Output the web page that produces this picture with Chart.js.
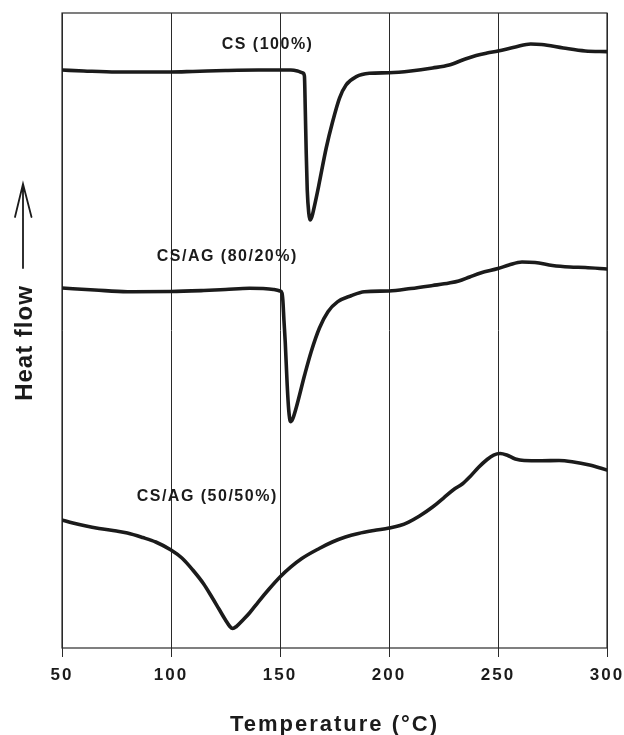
<!DOCTYPE html>
<html>
<head>
<meta charset="utf-8">
<title>DSC thermograms</title>
<script src="https://cdn.jsdelivr.net/npm/chart.js@4/dist/chart.umd.min.js"></script>
<style>
  html, body { margin: 0; padding: 0; background: #ffffff; }
  #wrap { width: 624px; height: 735px; }
</style>
</head>
<body>
<div id="wrap"><canvas id="dsc" width="624" height="735"></canvas></div>
<script>
// Temperature axis ticks (°C)
const temperatureTicks = [50, 100, 150, 200, 250, 300];

// Heat flow curves, arbitrary units (endotherm = downward)
const csTemp = [50, 60, 75, 100, 110, 125, 140, 150, 155, 158, 160.5, 161.2, 161.6, 162, 162.5, 163.2, 163.8, 164.6, 165.5, 167, 168.1, 171.2, 174.1, 177.3, 180.3, 185, 191, 200, 210, 220, 227.6, 235, 240, 245, 250, 258, 265, 270, 280, 290, 300];
const csFlow = [91.02, 90.87, 90.71, 90.71, 90.79, 90.94, 91.02, 91.02, 91.02, 90.87, 90.55, 90.08, 84.72, 78.43, 72.13, 68.50, 67.40, 67.87, 69.13, 71.50, 73.39, 78.74, 82.83, 86.61, 88.66, 89.97, 90.50, 90.60, 90.87, 91.34, 91.81, 92.76, 93.31, 93.70, 94.02, 94.65, 95.12, 95.04, 94.49, 94.02, 93.91];

const cs80Temp = [50, 65, 80, 100, 115, 125, 136, 142, 147, 150, 150.9, 151.3, 151.8, 152.4, 153.3, 154, 154.8, 155.8, 157.4, 161.3, 164.3, 168.1, 172, 176.5, 182.6, 188.7, 200, 210, 220, 227.6, 232, 237, 242, 250, 255, 261, 267, 275, 283, 290, 300];
const cs80Flow = [56.69, 56.38, 56.11, 56.14, 56.30, 56.46, 56.65, 56.61, 56.46, 56.22, 55.91, 54.80, 51.65, 48.19, 41.42, 37.48, 35.64, 36.06, 37.80, 42.99, 46.66, 50.39, 52.96, 54.54, 55.48, 56.11, 56.22, 56.61, 57.09, 57.48, 57.80, 58.43, 59.06, 59.76, 60.31, 60.79, 60.71, 60.24, 60.00, 59.92, 59.69];

const cs50Temp = [50, 55, 60, 67, 75, 80, 87, 93, 100, 105, 110, 115, 119, 122, 125, 127, 128.3, 130, 133, 136, 140, 145, 150, 155, 160, 168, 174, 180, 186, 193, 200, 205, 209, 214, 220, 225, 230, 233.6, 237, 241, 245, 248, 251, 254, 258, 262, 270, 278, 284, 292, 300];
const cs50Flow = [20.16, 19.69, 19.29, 18.82, 18.43, 18.11, 17.40, 16.69, 15.43, 14.17, 12.28, 10.08, 7.87, 6.14, 4.41, 3.39, 3.07, 3.39, 4.41, 5.51, 7.24, 9.29, 11.18, 12.76, 14.09, 15.67, 16.69, 17.48, 18.03, 18.50, 18.90, 19.29, 19.84, 20.79, 22.20, 23.62, 25.04, 25.83, 26.93, 28.43, 29.69, 30.39, 30.63, 30.39, 29.76, 29.53, 29.50, 29.53, 29.34, 28.82, 28.03];

// Curve captions and where they sit (temperature, heat flow)
const seriesNames = ['CS (100%)', 'CS/AG (80/20%)', 'CS/AG (50/50%)'];
const captionAt = [[144.3, 95.1], [125.8, 61.7], [116.6, 23.86]];

const INK = '#1b1b1b';
const FONT = "'Liberation Sans', Arial, Helvetica, sans-serif";

function toPoints(xs, ys) { return xs.map((x, i) => ({ x: x, y: ys[i] })); }

const curveStyle = {
  borderColor: INK,
  borderWidth: 3.6,
  pointRadius: 0,
  fill: false,
  cubicInterpolationMode: 'monotone',
  borderCapStyle: 'round',
  borderJoinStyle: 'round'
};

// Spaced lettering for everything the chart draws
const spacing = {
  id: 'spacing',
  beforeDraw(chart) { chart.ctx.letterSpacing = '2px'; }
};

// Plot frame, curve captions, y-axis arrow and label
const decorations = {
  id: 'decorations',
  beforeDatasetsDraw(chart) {
    const { ctx, chartArea: a } = chart;
    ctx.save();
    ctx.strokeStyle = '#2a2a2a';
    ctx.lineWidth = 1.2;
    ctx.strokeRect(a.left, a.top, a.right - a.left, a.bottom - a.top);
    ctx.restore();
  },
  afterDatasetsDraw(chart) {
    const { ctx } = chart;
    const xs = chart.scales.x, ys = chart.scales.y;
    ctx.save();
    ctx.fillStyle = INK;
    ctx.font = 'bold 16px ' + FONT;
    ctx.letterSpacing = '1.5px';
    ctx.textAlign = 'center';
    ctx.textBaseline = 'middle';
    seriesNames.forEach((name, i) => {
      ctx.fillText(name, xs.getPixelForValue(captionAt[i][0]), ys.getPixelForValue(captionAt[i][1]));
    });

    // upward arrow
    ctx.strokeStyle = INK;
    ctx.lineWidth = 1.8;
    ctx.lineCap = 'round';
    ctx.beginPath();
    ctx.moveTo(23, 268); ctx.lineTo(23, 184);
    ctx.moveTo(15, 217); ctx.lineTo(23, 184); ctx.lineTo(31.5, 217);
    ctx.stroke();

    // rotated axis label
    ctx.translate(32, 343);
    ctx.rotate(-Math.PI / 2);
    ctx.font = 'bold 24px ' + FONT;
    ctx.letterSpacing = '1px';
    ctx.textBaseline = 'alphabetic';
    ctx.fillText('Heat flow', 0, 0);
    ctx.restore();
  }
};

new Chart(document.getElementById('dsc'), {
  type: 'line',
  data: {
    datasets: [
      Object.assign({ label: seriesNames[0], data: toPoints(csTemp, csFlow) }, curveStyle),
      Object.assign({ label: seriesNames[1], data: toPoints(cs80Temp, cs80Flow) }, curveStyle),
      Object.assign({ label: seriesNames[2], data: toPoints(cs50Temp, cs50Flow) }, curveStyle)
    ]
  },
  options: {
    responsive: false,
    animation: false,
    devicePixelRatio: 1,
    layout: { padding: { top: 13, right: 17, left: 62, bottom: 0 } },
    plugins: { legend: { display: false }, tooltip: { enabled: false }, title: { display: false } },
    scales: {
      x: {
        type: 'linear',
        min: 50,
        max: 300,
        afterBuildTicks: s => { s.ticks = temperatureTicks.map(v => ({ value: v })); },
        afterFit: s => { s.height = 87; s.paddingLeft = 0; s.paddingRight = 0; },
        grid: { color: '#2a2a2a', lineWidth: 1, tickLength: 9, drawTicks: true },
        border: { display: false },
        ticks: {
          color: INK,
          padding: 8,
          maxRotation: 0,
          font: { family: FONT, size: 17, weight: 'bold' }
        },
        title: {
          display: true,
          text: 'Temperature (°C)',
          color: INK,
          font: { family: FONT, size: 22, weight: 'bold' },
          padding: { top: 0, bottom: -3 }
        }
      },
      y: {
        type: 'linear',
        min: 0,
        max: 100,
        display: false
      }
    }
  },
  plugins: [spacing, decorations]
});
</script>
</body>
</html>
